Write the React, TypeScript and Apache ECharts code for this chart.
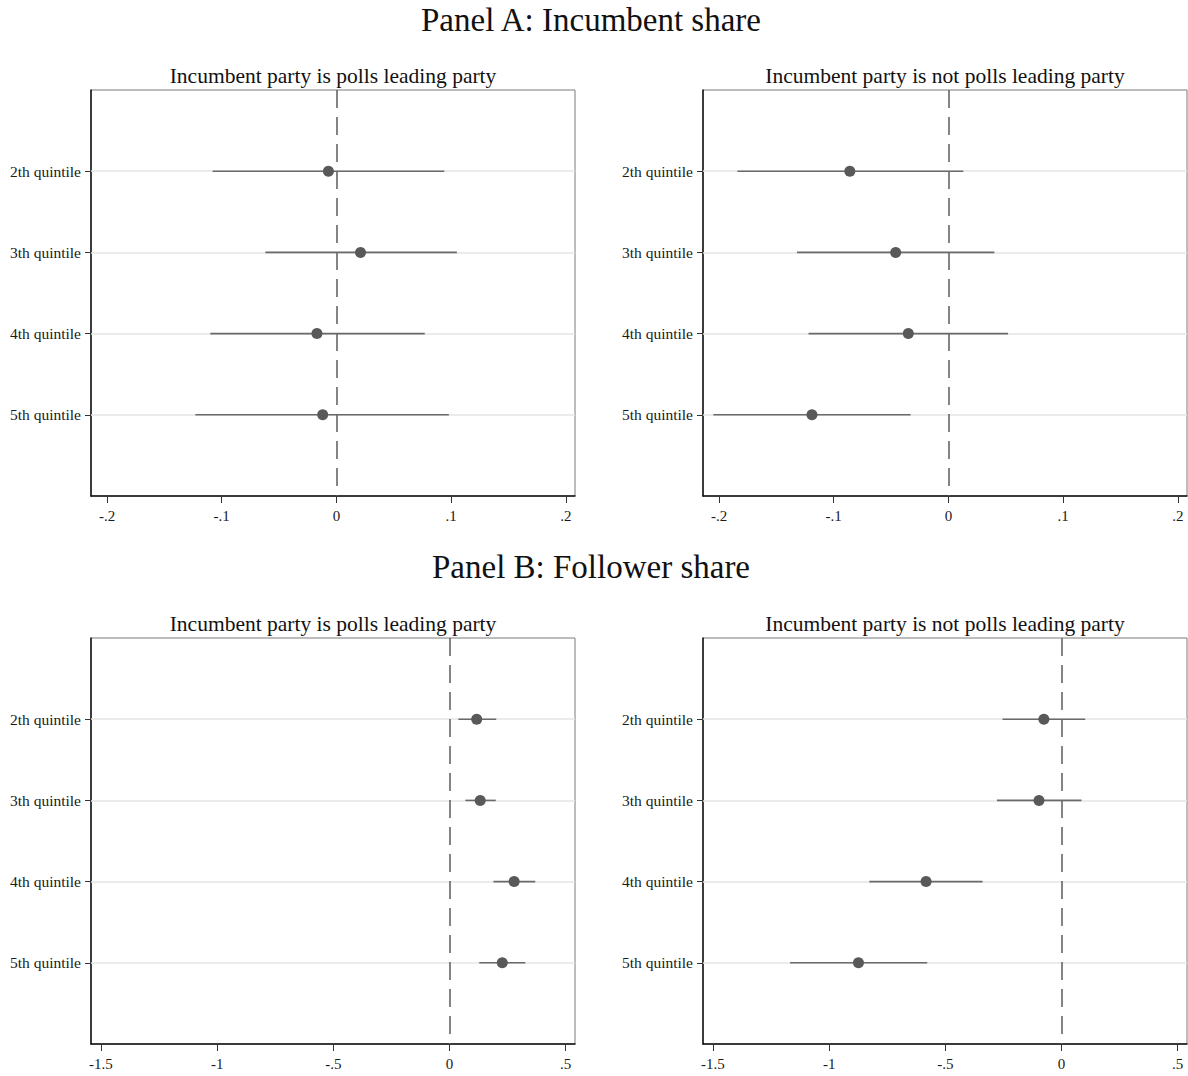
import React, { useEffect, useRef } from "react";
import * as echarts from "echarts";

// ---- data ----
const quintiles = ["2th quintile", "3th quintile", "4th quintile", "5th quintile"];
const rowPos = [1, 2, 3, 4];
const aTicks = [-0.2, -0.1, 0, 0.1, 0.2];
const bTicks = [-1.5, -1, -0.5, 0, 0.5];

const aLeadCoef = [-0.007, 0.021, -0.017, -0.012];
const aLeadLo = [-0.108, -0.062, -0.110, -0.123];
const aLeadHi = [0.094, 0.105, 0.077, 0.098];

const aNotCoef = [-0.086, -0.046, -0.035, -0.119];
const aNotLo = [-0.184, -0.132, -0.122, -0.205];
const aNotHi = [0.013, 0.040, 0.052, -0.033];

const bLeadCoef = [0.117, 0.132, 0.278, 0.227];
const bLeadLo = [0.038, 0.068, 0.189, 0.128];
const bLeadHi = [0.201, 0.199, 0.369, 0.326];

const bNotCoef = [-0.076, -0.097, -0.583, -0.874];
const bNotLo = [-0.254, -0.278, -0.827, -1.168];
const bNotHi = [0.102, 0.086, -0.340, -0.578];

const panelTitles = ["Panel A: Incumbent share", "Panel B: Follower share"];
const subTitles = ["Incumbent party is polls leading party", "Incumbent party is not polls leading party"];

const FONT = "'Liberation Serif', 'DejaVu Serif', serif";

const fmt = (v: number) => {
  const s = parseFloat(Number(v).toFixed(2)).toString();
  return s.replace(/^(-?)0\./, "$1.");
};

export default function App() {
  const ref = useRef<HTMLDivElement>(null);
  useEffect(() => {
    if (!ref.current) return;
    const chart = echarts.init(ref.current, undefined, { renderer: "svg" });

    const panels = [
      { left: 91, top: 90, coef: aLeadCoef, lo: aLeadLo, hi: aLeadHi, ticks: aTicks, min: -0.214, max: 0.208 },
      { left: 703, top: 90, coef: aNotCoef, lo: aNotLo, hi: aNotHi, ticks: aTicks, min: -0.214, max: 0.208 },
      { left: 91, top: 638, coef: bLeadCoef, lo: bLeadLo, hi: bLeadHi, ticks: bTicks, min: -1.543, max: 0.54 },
      { left: 703, top: 638, coef: bNotCoef, lo: bNotLo, hi: bNotHi, ticks: bTicks, min: -1.543, max: 0.54 },
    ];
    const W = 484;
    const H = 406;

    const grid = panels.map((p) => ({
      left: p.left,
      top: p.top,
      width: W,
      height: H,
      show: true,
      borderColor: "#7a7a7a",
      borderWidth: 1,
      backgroundColor: "transparent",
    }));

    const xAxis = panels.map((p, i) => ({
      type: "value",
      gridIndex: i,
      min: p.min,
      max: p.max,
      axisLine: { show: true, onZero: false, lineStyle: { color: "#111", width: 1.5 } },
      axisTick: { show: true, length: 7, customValues: p.ticks, lineStyle: { color: "#333", width: 1 } },
      axisLabel: {
        customValues: p.ticks,
        formatter: fmt,
        fontFamily: FONT,
        fontSize: 15,
        color: "#1a1a1a",
        margin: 12,
      },
      splitLine: { show: false },
    }));

    const yAxis = panels.map((p, i) => ({
      type: "value",
      gridIndex: i,
      min: 0,
      max: 5,
      inverse: true,
      axisLine: { show: true, onZero: false, lineStyle: { color: "#111", width: 1.5 } },
      axisTick: { show: true, length: 6, customValues: rowPos, lineStyle: { color: "#333" } },
      axisLabel: {
        customValues: rowPos,
        formatter: (v: number) => quintiles[Math.round(v) - 1] || "",
        fontFamily: FONT,
        fontSize: 15.5,
        color: "#1a1a1a",
        margin: 10,
        padding: [4, 0, 0, 0],
      },
      splitLine: { show: false },
    }));

    const series: any[] = [];
    panels.forEach((p, i) => {
      series.push({
        type: "custom",
        xAxisIndex: i,
        yAxisIndex: i,
        data: p.lo.map((lo, k) => [lo, p.hi[k], rowPos[k]]),
        encode: { x: [0, 1], y: 2 },
        renderItem: (params: any, api: any) => {
          const y = api.value(2);
          const a = api.coord([api.value(0), y]);
          const b = api.coord([api.value(1), y]);
          return {
            type: "line",
            shape: { x1: a[0], y1: a[1], x2: b[0], y2: b[1] },
            style: { stroke: "#6a6a6a", lineWidth: 1.6 },
          };
        },
        z: 3,
      });
      series.push({
        type: "scatter",
        xAxisIndex: i,
        yAxisIndex: i,
        data: p.coef.map((c, k) => [c, rowPos[k]]),
        symbol: "circle",
        symbolSize: 11,
        itemStyle: { color: "#595959", opacity: 1 },
        z: 4,
        markLine: {
          silent: true,
          symbol: "none",
          label: { show: false },
          z: 1,
          data: [
            ...rowPos.map((r) => ({ yAxis: r, lineStyle: { color: "#e4e4e4", width: 1.5, type: "solid" } })),
            { xAxis: 0, lineStyle: { color: "#5c5c5c", width: 1.5, type: [18, 9] } },
          ],
        },
      });
    });

    const graphic: any[] = [
      { type: "text", x: 591, y: 20, style: { text: panelTitles[0], font: `33px ${FONT}`, fill: "#111", textAlign: "center", textVerticalAlign: "middle" } },
      { type: "text", x: 591, y: 567, style: { text: panelTitles[1], font: `33px ${FONT}`, fill: "#111", textAlign: "center", textVerticalAlign: "middle" } },
    ];
    panels.forEach((p, i) => {
      graphic.push({
        type: "text",
        x: p.left + W / 2,
        y: p.top - 14,
        style: {
          text: subTitles[i % 2],
          font: `21.5px ${FONT}`,
          fill: "#111",
          textAlign: "center",
          textVerticalAlign: "middle",
        },
      });
    });

    chart.setOption({
      animation: false,
      backgroundColor: "#ffffff",
      grid,
      xAxis,
      yAxis,
      series,
      graphic,
    } as any);
    return () => chart.dispose();
  }, []);
  return (
    <div
      ref={ref}
      style={{ position: "absolute", left: 0, top: 0, width: 1188, height: 1076 }}
    />
  );
}
